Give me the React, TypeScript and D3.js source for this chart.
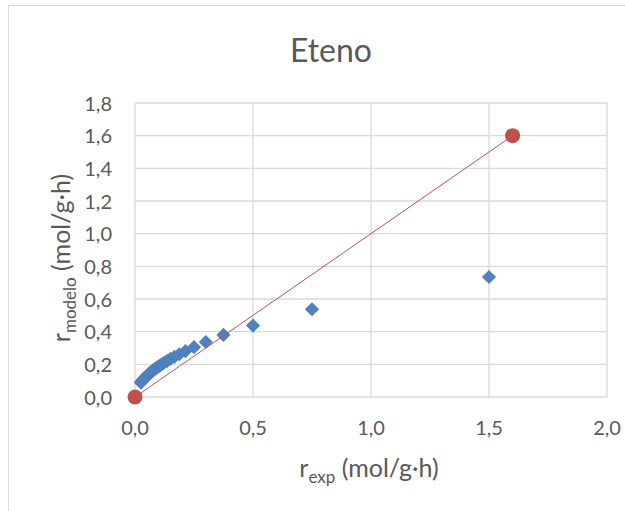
import React from "react";
import * as d3 from "d3";

// Experimental vs. model rates (mol/g·h)
const rExp = [
  1.5, 0.75, 0.5, 0.375, 0.3, 0.25, 0.214, 0.1875, 0.167, 0.15, 0.136, 0.125,
  0.115, 0.107, 0.1, 0.094, 0.088, 0.083, 0.079, 0.075, 0.071, 0.068, 0.065,
  0.0625, 0.06, 0.057, 0.054, 0.051, 0.048, 0.045, 0.042, 0.039, 0.036, 0.033,
  0.03, 0.027, 0.025,
];
const rModelo = [
  0.735, 0.537, 0.437, 0.38, 0.337, 0.305, 0.281, 0.262, 0.246, 0.233, 0.221,
  0.211, 0.202, 0.194, 0.187, 0.181, 0.175, 0.17, 0.165, 0.16, 0.156, 0.152,
  0.148, 0.145, 0.142, 0.138, 0.134, 0.13, 0.126, 0.122, 0.118, 0.113, 0.108,
  0.103, 0.098, 0.092, 0.088,
];
// Parity (y = x) reference line endpoints
const parityX = [0, 1.6];
const parityY = [0, 1.6];

const xTicks = [0, 0.5, 1.0, 1.5, 2.0];
const yTicks = [0, 0.2, 0.4, 0.6, 0.8, 1.0, 1.2, 1.4, 1.6, 1.8];

const FONT = "Lato, 'Open Sans', sans-serif";
const TEXT = "#595959";
const GRID = "#D9D9D9";
const BLUE = "#4F81BD";
const RED = "#C0504D";

const fmt = (v: number) => v.toFixed(1).replace(".", ",");

export default function App() {
  const x = d3.scaleLinear().domain([0, 2]).range([135, 607]);
  const y = d3.scaleLinear().domain([0, 1.8]).range([397, 103]);
  const diamond = d3.symbol(d3.symbolSquare, 100)() as string;
  const parity = parityX.map((v, i) => [v, parityY[i]] as [number, number]);
  const line = d3
    .line<[number, number]>()
    .x((d) => x(d[0]))
    .y((d) => y(d[1]));

  return (
    <svg
      width={625}
      height={511}
      style={{ position: "absolute", left: 0, top: 0, background: "#fff" }}
      fontFamily={FONT}
    >
      <rect x={8.5} y={5.5} width={700} height={600} fill="#fff" stroke={GRID} />
      <text x={331} y={62} textAnchor="middle" fontSize={32} fill={TEXT}>
        Eteno
      </text>

      {/* grid */}
      {yTicks.map((t) => (
        <line key={"gy" + t} x1={x(0)} x2={x(2)} y1={y(t)} y2={y(t)} stroke={GRID} strokeWidth={1.3} />
      ))}
      {xTicks.map((t) => (
        <line key={"gx" + t} x1={x(t)} x2={x(t)} y1={y(0)} y2={y(1.8)} stroke={GRID} strokeWidth={1.3} />
      ))}

      {/* tick labels */}
      {yTicks.map((t) => (
        <text key={"ly" + t} x={112} y={y(t) + 7.5} textAnchor="end" fontSize={20} fill={TEXT}>
          {fmt(t)}
        </text>
      ))}
      {xTicks.map((t) => (
        <text key={"lx" + t} x={x(t)} y={435} textAnchor="middle" fontSize={20} fill={TEXT}>
          {fmt(t)}
        </text>
      ))}

      {/* axis titles */}
      <text x={369} y={477} textAnchor="middle" fontSize={25} fill={TEXT}>
        r<tspan fontSize={17} dy={6}>exp</tspan>
        <tspan dy={-6}> (mol/g·h)</tspan>
      </text>
      <text
        transform={`translate(70,258) rotate(-90)`}
        textAnchor="middle"
        fontSize={25}
        fill={TEXT}
      >
        r<tspan fontSize={17} dy={6}>modelo</tspan>
        <tspan dy={-6}> (mol/g·h)</tspan>
      </text>

      {/* model points */}
      {rExp.map((v, i) => (
        <path
          key={"p" + i}
          d={diamond}
          transform={`translate(${x(v)},${y(rModelo[i])}) rotate(45)`}
          fill={BLUE}
        />
      ))}

      {/* parity line */}
      <path d={line(parity) as string} fill="none" stroke={RED} strokeWidth={1} />
      {parity.map((d, i) => (
        <circle key={"c" + i} cx={x(d[0])} cy={y(d[1])} r={7.5} fill={RED} />
      ))}
    </svg>
  );
}
